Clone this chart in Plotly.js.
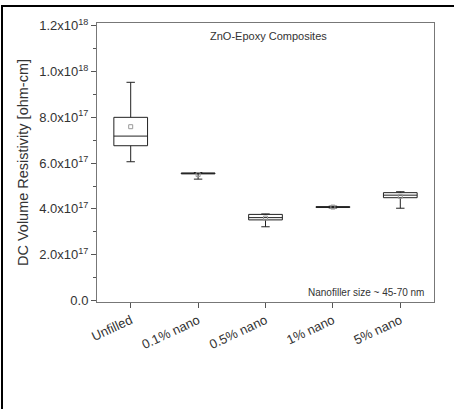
<!DOCTYPE html>
<html>
<head>
<meta charset="utf-8">
<script src="https://cdn.plot.ly/plotly-3.0.1.min.js"></script>
<style>
html,body{margin:0;padding:0;background:#fff;}
#wrap{position:relative;width:454px;height:409px;overflow:hidden;}
#chart{position:absolute;left:0;top:0;width:454px;height:409px;}
#frame{position:absolute;left:1px;top:5px;width:460px;height:420px;border-top:2px solid #000;border-left:2px solid #000;pointer-events:none;}
</style>
</head>
<body>
<div id="wrap"><div id="chart"></div><div id="frame"></div></div>
<script>
var categories = ['Unfilled', '0.1% nano', '0.5% nano', '1% nano', '5% nano'];
var q1Values     = [6.76e17, 5.53e17, 3.52e17, 4.06e17, 4.49e17];
var medianValues = [7.18e17, 5.55e17, 3.62e17, 4.08e17, 4.60e17];
var q3Values     = [8.00e17, 5.57e17, 3.76e17, 4.10e17, 4.71e17];
var lowerValues  = [6.06e17, 5.30e17, 3.22e17, 4.04e17, 4.03e17];
var upperValues  = [9.53e17, 5.59e17, 3.78e17, 4.12e17, 4.75e17];
var meanValues   = [7.59e17, 5.50e17, 3.60e17, 4.08e17, 4.55e17];
var yTickValues  = [0, 2e17, 4e17, 6e17, 8e17, 1e18, 1.2e18];
var yTickLabels  = ['0.0', '2.0x10<sup>17</sup>', '4.0x10<sup>17</sup>', '6.0x10<sup>17</sup>', '8.0x10<sup>17</sup>', '1.0x10<sup>18</sup>', '1.2x10<sup>18</sup>'];
var chartTitle = 'ZnO-Epoxy Composites';
var noteText = 'Nanofiller size ~ 45-70 nm';
var yTitle = 'DC Volume Resistivity [ohm-cm]';

var font = 'Liberation Sans, Arial, sans-serif';

var boxTrace = {
  type: 'box',
  x: categories,
  q1: q1Values,
  median: medianValues,
  q3: q3Values,
  lowerfence: lowerValues,
  upperfence: upperValues,
  fillcolor: 'rgba(255,255,255,0)',
  line: {color: '#222', width: 1},
  whiskerwidth: 0.25,
  width: 0.5,
  boxpoints: false,
  hoverinfo: 'skip',
  showlegend: false
};
var meanTrace = {
  type: 'scatter',
  mode: 'markers',
  x: categories,
  y: meanValues,
  marker: {symbol: 'square-open', size: 4, color: '#999', line: {width: 1}},
  showlegend: false,
  hoverinfo: 'skip'
};

var layout = {
  width: 454, height: 409,
  margin: {l: 97, r: 20, t: 23, b: 107},
  paper_bgcolor: '#fff',
  plot_bgcolor: '#fff',
  showlegend: false,
  font: {family: font, color: '#333'},
  xaxis: {
    type: 'category',
    range: [-0.5, 4.5],
    showgrid: false, zeroline: false,
    showline: true, mirror: true, linecolor: '#777', linewidth: 1,
    ticks: 'outside', ticklen: 5, tickcolor: '#555',
    tickangle: -25,
    tickfont: {family: font, size: 13, color: '#333'}
  },
  yaxis: {
    range: [-0.0066e18, 1.212e18],
    showgrid: false, zeroline: false,
    showline: true, mirror: true, linecolor: '#777', linewidth: 1,
    ticks: 'outside', ticklen: 5, tickcolor: '#555',
    tickmode: 'array', tickvals: yTickValues, ticktext: yTickLabels,
    minor: {dtick: 1e17, ticklen: 3, tickcolor: '#555', ticks: 'outside', showgrid: false},
    tickfont: {family: font, size: 13, color: '#333'},
    title: {text: yTitle, font: {family: font, size: 14.5, color: '#333'}, standoff: 7}
  },
  annotations: [
    {xref: 'paper', yref: 'paper', x: 0.51, y: 0.955, xanchor: 'center', yanchor: 'middle',
     text: chartTitle, showarrow: false, font: {family: font, size: 11, color: '#333'}},
    {xref: 'paper', yref: 'paper', x: 0.975, y: 0.033, xanchor: 'right', yanchor: 'middle',
     text: noteText, showarrow: false, font: {family: font, size: 10, color: '#333'}}
  ]
};

Plotly.newPlot('chart', [boxTrace, meanTrace], layout, {displayModeBar: false, staticPlot: true});
</script>
</body>
</html>
